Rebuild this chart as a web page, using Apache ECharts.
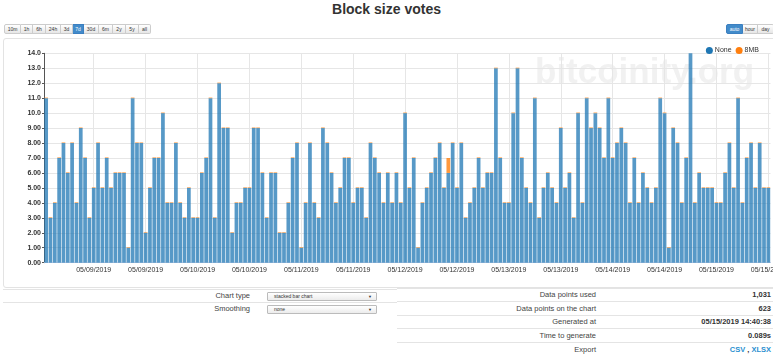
<!DOCTYPE html>
<html><head><meta charset="utf-8">
<script src="https://cdn.jsdelivr.net/npm/echarts@6/dist/echarts.min.js"></script>
<style>
html,body{margin:0;padding:0;width:773px;height:362px;overflow:hidden;background:#fff;font-family:"Liberation Sans",Arial,sans-serif;color:#333;}
.abs{position:absolute;white-space:nowrap;}
#title{left:0;width:773px;top:1px;text-align:center;font-size:14px;font-weight:bold;color:#333;}
.btns{position:absolute;top:24px;height:10px;display:flex;}
.btns span{display:block;height:8px;line-height:8px;font-size:5px;color:#333;border:1px solid #ccc;border-left:none;background:linear-gradient(#fff,#e6e6e6);text-align:center;box-sizing:content-box;}
.btns span:first-child{border-left:1px solid #ccc;border-radius:2px 0 0 2px;}
.btns span:last-child{border-radius:0 2px 2px 0;}
.btns span.on{background:#428bca;color:#fff;border-color:#3b7fc0;}
#box{left:3px;top:38px;width:790px;height:248px;border:1px solid #e3e3e3;border-radius:3px;}
#chart{position:absolute;left:3px;top:38px;width:800px;height:249px;}
.hl{position:absolute;height:0;border-top:1px solid #e4e4e4;}
.lbl{font-size:7.5px;color:#444;text-align:right;}
.val{font-size:7.5px;font-weight:bold;color:#333;text-align:right;}
.sel{position:absolute;left:267px;width:108px;height:7px;border:1px solid #bbb;border-radius:1px;background:linear-gradient(#fff,#ececec);font-size:5px;line-height:7px;}
.sel span{position:absolute;left:6px;top:0;}
.sel i{position:absolute;right:4px;top:0;font-style:normal;font-size:4px;}
a{color:#2a8fd0;text-decoration:none;}
</style></head>
<body>
<div id="title" class="abs">Block size votes</div>
<div class="btns" style="left:4px;">
<span style="width:15px">10m</span><span style="width:11px">1h</span><span style="width:12px">6h</span><span style="width:14px">24h</span><span style="width:11px">3d</span><span class="on" style="width:10px">7d</span><span style="width:14px">30d</span><span style="width:13px">6m</span><span style="width:12px">2y</span><span style="width:12px">5y</span><span style="width:11px">all</span>
</div>
<div class="btns" style="left:726px;">
<span class="on" style="width:15px">auto</span><span style="width:14px">hour</span><span style="width:15px">day</span>
</div>
<div id="box" class="abs"></div>
<div id="chart"></div>

<div class="hl" style="left:3px;width:394px;top:289px;"></div>
<div class="abs lbl" style="right:523px;top:291px;">Chart type</div>
<div class="sel" style="top:292px;"><span>stacked bar chart</span><i>▼</i></div>
<div class="hl" style="left:3px;width:394px;top:302px;"></div>
<div class="abs lbl" style="right:523px;top:304px;">Smoothing</div>
<div class="sel" style="top:305px;"><span>none</span><i>▼</i></div>

<div class="hl" style="left:397px;width:376px;top:288px;"></div>
<div class="hl" style="left:397px;width:376px;top:301px;"></div>
<div class="hl" style="left:397px;width:376px;top:315px;"></div>
<div class="hl" style="left:397px;width:376px;top:328px;"></div>
<div class="hl" style="left:397px;width:376px;top:342px;"></div>
<div class="abs lbl" style="right:177px;top:290px;">Data points used</div>
<div class="abs val" style="right:2px;top:290px;">1,031</div>
<div class="abs lbl" style="right:177px;top:304px;">Data points on the chart</div>
<div class="abs val" style="right:2px;top:304px;">623</div>
<div class="abs lbl" style="right:177px;top:317px;">Generated at</div>
<div class="abs val" style="right:2px;top:317px;">05/15/2019 14:40:38</div>
<div class="abs lbl" style="right:177px;top:331px;">Time to generate</div>
<div class="abs val" style="right:2px;top:331px;">0.089s</div>
<div class="abs lbl" style="right:177px;top:345px;">Export</div>
<div class="abs val" style="right:2px;top:345px;"><a href="#">CSV</a> , <a href="#">XLSX</a></div>

<script>
// hourly buckets, first bar = 05/08/2019 13:00
const startHour = Date.UTC(2019, 4, 8, 13);
const hourCount = 168;
const seriesNames = ['None', '8MB'];
const noneVotes = [
  11,3,4,7,8,6,8,4,9,7,
  3,5,8,5,7,5,6,6,6,1,
  11,8,8,2,5,7,7,10,4,4,
  8,4,3,5,3,3,6,7,11,3,
  12,9,9,2,4,4,5,5,9,9,
  6,3,6,6,2,2,4,7,8,1,
  4,8,4,3,9,8,6,4,5,7,
  7,4,5,5,3,8,7,6,4,6,
  4,6,4,10,5,7,1,4,5,6,
  7,8,5,6,8,5,8,3,4,5,
  7,5,6,6,13,7,4,4,10,13,
  7,5,4,11,3,5,6,5,4,9,
  5,6,3,10,4,11,9,10,9,7,
  11,7,8,9,8,4,7,4,6,5,
  4,5,11,10,1,9,8,4,7,14,
  4,6,5,5,5,4,4,6,8,5,
  11,4,7,8,5,8,5,5
];
const mb8Votes = [
  0,0,0,0,0,0,0,0,0,0,
  0,0,0,0,0,0,0,0,0,0,
  0,0,0,0,0,0,0,0,0,0,
  0,0,0,0,0,0,0,0,0,0,
  0,0,0,0,0,0,0,0,0,0,
  0,0,0,0,0,0,0,0,0,0,
  0,0,0,0,0,0,0,0,0,0,
  0,0,0,0,0,0,0,0,0,0,
  0,0,0,0,0,0,0,0,0,0,
  0,0,0,1,0,0,0,0,0,0,
  0,0,0,0,0,0,0,0,0,0,
  0,0,0,0,0,0,0,0,0,0,
  0,0,0,0,0,0,0,0,0,0,
  0,0,0,0,0,0,0,0,0,0,
  0,0,0,0,0,0,0,0,0,0,
  0,0,0,0,0,0,0,0,0,0,
  0,0,0,0,0,0,0,0
];
const yTicks = [0,1,2,3,4,5,6,7,8,9,10,11,12,13,14];

function pad(n){return (n<10?'0':'')+n;}
const hours = [];
for (let i = 0; i < hourCount; i++) {
  const d = new Date(startHour + i*3600000);
  hours.push(pad(d.getUTCMonth()+1)+'/'+pad(d.getUTCDate())+'/'+d.getUTCFullYear()+' '+pad(d.getUTCHours())+':00');
}
const isTick = (i) => hours[i].slice(11,13) === '00' || hours[i].slice(11,13) === '12';

const chart = echarts.init(document.getElementById('chart'), null, {renderer:'canvas'});
chart.setOption({
  animation: false,
  textStyle: {fontFamily: '"Liberation Sans", Arial, sans-serif'},
  grid: {left: 41, right: 32.5, top: 15.3, bottom: 24.3, containLabel: false},
  legend: {
    right: 39, top: 4, icon: 'circle', itemWidth: 7, itemHeight: 7, itemGap: 4,
    textStyle: {fontSize: 7, color: '#333', padding: [0,0,0,-3]},
    data: [
      {name: seriesNames[0], itemStyle: {color: '#1f77b4', opacity: 1}},
      {name: seriesNames[1], itemStyle: {color: '#ff7f0e', opacity: 1}}
    ]
  },
  graphic: [{
    type: 'text', left: 532, top: 18, z: -10, silent: true,
    style: {text: 'bitcoinity.org', fontSize: 35, fontWeight: 'bold', fill: '#f1f1f1', fontFamily: '"Liberation Sans", Arial, sans-serif'}
  }],
  xAxis: {
    type: 'category', data: hours,
    axisLine: {show: true, lineStyle: {color: '#ccd6eb'}},
    axisTick: {show: false},
    axisLabel: {interval: (i) => isTick(i), formatter: (v) => v.slice(0,10), fontSize: 7, color: '#333', margin: 4, hideOverlap: false},
    splitLine: {show: true, interval: (i) => isTick(i), alignWithLabel: true, lineStyle: {color: '#e6e6e6', width: 1}}
  },
  yAxis: {
    type: 'value', min: yTicks[0], max: yTicks[yTicks.length-1], interval: 1,
    axisLine: {show: true, lineStyle: {color: '#555'}},
    axisTick: {show: true, length: 2, lineStyle: {color: '#555'}},
    axisLabel: {formatter: (v) => v.toPrecision(3), fontSize: 7, fontWeight: 'bold', color: '#333', margin: 3},
    splitLine: {lineStyle: {color: '#e6e6e6', width: 1}}
  },
  series: [
    {name: seriesNames[0], type: 'bar', stack: 'votes', data: noneVotes, barCategoryGap: '14%',
     itemStyle: {color: '#1f77b4', opacity: 0.75}},
    {name: seriesNames[1], type: 'bar', stack: 'votes', data: mb8Votes, barCategoryGap: '14%', barMinHeight: 0.6,
     itemStyle: {color: '#ff7f0e', opacity: 0.8}}
  ]
});
</script>
</body></html>
